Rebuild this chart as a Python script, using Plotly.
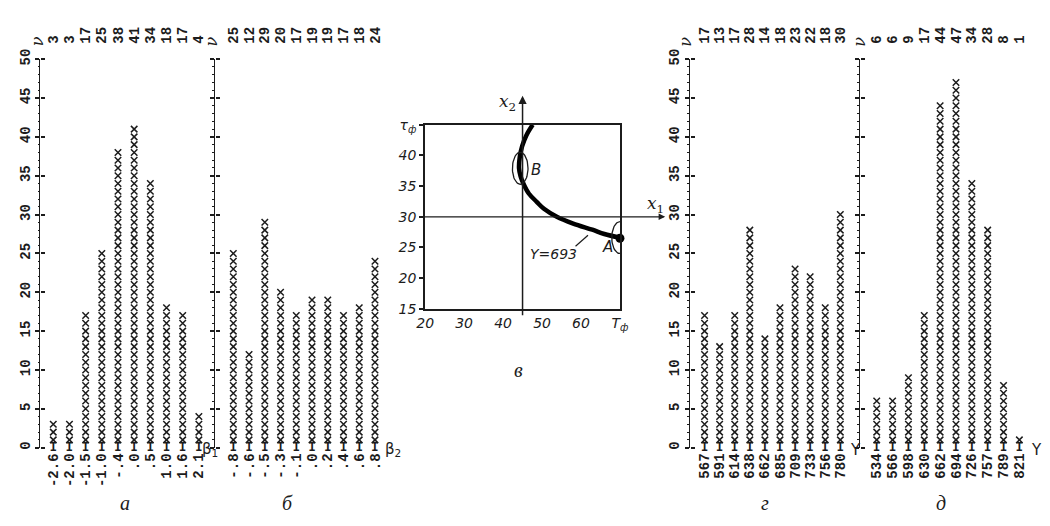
import math
import plotly.graph_objects as go

# ---------------- data ----------------
# panel а
a_labels = ["-2.6", "-2.0", "-1.5", "-1.0", "-.4", ".0", ".5", "1.0", "1.6", "2.1"]
a_counts = [3, 3, 17, 25, 38, 41, 34, 18, 17, 4]
# panel б
b_labels = ["-.8", "-.6", "-.5", "-.3", "-.1", ".0", ".2", ".4", ".6", ".8"]
b_counts = [25, 12, 29, 20, 17, 19, 19, 17, 18, 24]
# panel г
g_labels = ["567", "591", "614", "638", "662", "685", "709", "733", "756", "780"]
g_counts = [17, 13, 17, 28, 14, 18, 23, 22, 18, 30]
# panel д
d_labels = ["534", "566", "598", "630", "662", "694", "726", "757", "789", "821"]
d_counts = [6, 6, 9, 17, 44, 47, 34, 28, 8, 1]

value_ticks = [0, 5, 10, 15, 20, 25, 30, 35, 40, 45, 50]

# panel в
curve_x = [70.0, 66.0, 62.9, 58.0, 53.8, 50.5, 48.7, 46.6, 45.3, 44.5, 44.1, 44.3, 44.9, 46.0, 47.6]
curve_y = [26.6, 27.2, 27.9, 28.9, 30.0, 31.3, 32.4, 33.8, 35.3, 36.6, 37.9, 39.8, 41.5, 43.3, 45.0]
point_A = (70.0, 26.5)
ellipse_B = (44.4, 37.9, 2.0, 2.6)   # centre x, centre y, half-width, half-height
ellipse_A = (70.0, 26.6, 2.1, 2.6)
v_xticks = [20, 30, 40, 50, 60, 70]
v_xtext = ["20", "30", "40", "50", "60", "T<sub>ф</sub>"]
v_yticks = [15, 20, 25, 30, 35, 40, 45]
v_ytext = ["15", "20", "25", "30", "35", "40", "τ<sub>ф</sub>"]

# ---------------- helpers ----------------
W, H = 1050, 526
def fx(p):
    return p / W
def fy(p):
    return 1 - p / H

MONO = "Liberation Mono"
INK = "#1c1c1c"

fig = go.Figure()

# value axis: 0 at pixel 453, 50 at pixel 50
y_dom = [fy(453), fy(50)]

panels = [
    # labels, counts, axis px, first px, last px, right px, show value labels
    (a_labels, a_counts, 32, 45, 193, 203, True),
    (b_labels, b_counts, 209, 228, 372, 382, False),
    (g_labels, g_counts, 692, 707, 845, 853, True),
    (d_labels, d_counts, 865, 882, 1027, 1037, False),
]

layout = dict(
    width=W, height=H, margin=dict(l=0, r=0, t=0, b=0),
    paper_bgcolor="white", plot_bgcolor="white", showlegend=False,
)

for k, (labels, counts, axp, p0, p1, pr, showv) in enumerate(panels, start=1):
    step = (p1 - p0) / (len(labels) - 1)
    lo = -(p0 - axp) / step
    hi = (pr - p0) / step
    xr = [lo, hi]
    idx = list(range(len(labels)))
    sfx = "" if k == 1 else str(k)
    xa = f"x{sfx}"
    ya = f"y{sfx}"
    # columns of typed crosses
    xs, ys = [], []
    for i, c in enumerate(counts):
        for j in range(1, c + 1):
            xs.append(i)
            ys.append(j)
    fig.add_trace(go.Scatter(
        x=xs, y=ys, mode="markers", xaxis=xa, yaxis=ya, cliponaxis=False,
        marker=dict(symbol="x-thin", size=6.5, line=dict(width=1.5, color=INK)),
        hoverinfo="skip"))
    # base "I"
    fig.add_trace(go.Scatter(
        x=idx, y=[0] * len(idx), mode="text", text=["I"] * len(idx),
        textfont=dict(family=MONO, size=12, color=INK, weight="bold"),
        xaxis=xa, yaxis=ya, cliponaxis=False, hoverinfo="skip"))
    # invisible traces so the helper axes get drawn
    fig.add_trace(go.Scatter(
        x=idx, y=[0] * len(idx), mode="markers", marker=dict(opacity=0),
        xaxis=f"x{k + 4}", yaxis=ya, hoverinfo="skip"))
    fig.add_trace(go.Scatter(
        x=idx, y=[0] * len(idx), mode="markers", marker=dict(opacity=0),
        xaxis=xa, yaxis=f"y{k + 4}", hoverinfo="skip"))

    layout[f"xaxis{sfx}"] = dict(
        domain=[fx(axp), fx(pr)], range=xr, anchor=ya,
        tickmode="array", tickvals=idx, ticktext=labels, tickangle=-90,
        tickfont=dict(family=MONO, size=14, color=INK, weight="bold"),
        ticklabelstandoff=2,
        showline=False, showgrid=False, zeroline=False, ticks="")
    layout[f"yaxis{sfx}"] = dict(
        domain=y_dom, range=[0, 50], anchor=xa, side="left",
        tickmode="array", tickvals=value_ticks, tickangle=-90,
        showticklabels=showv,
        tickfont=dict(family=MONO, size=14, color=INK, weight="bold"),
        showline=True, linecolor=INK, linewidth=1.2,
        ticks="outside", ticklen=4, tickwidth=1.5, tickcolor=INK,
        minor=dict(ticks="outside", dtick=1, ticklen=1.5, tickwidth=1, tickcolor=INK),
        showgrid=False, zeroline=False)
    # mirrored ticks to the right to form "+" marks
    layout[f"yaxis{k + 4}"] = dict(
        overlaying=ya, range=[0, 50], anchor="free", position=fx(axp), side="right",
        tickmode="array", tickvals=value_ticks, showticklabels=False,
        ticks="outside", ticklen=4, tickwidth=1.5, tickcolor=INK,
        showline=False, showgrid=False, zeroline=False)
    # counts along the top
    layout[f"xaxis{k + 4}"] = dict(
        overlaying=xa, range=xr, anchor="free", position=fy(34), side="top",
        tickmode="array", tickvals=idx, ticktext=[str(c) for c in counts], tickangle=-90,
        tickfont=dict(family=MONO, size=14, color=INK, weight="bold"),
        showline=False, showgrid=False, zeroline=False, ticks="")

# ---------------- panel в ----------------
VX0, VX1, VY0, VY1 = 423, 621, 309, 118   # pixel box
VXR, VYR = (20, 70), (15, 45)
def vxp(x):
    return VX0 + (x - VXR[0]) / (VXR[1] - VXR[0]) * (VX1 - VX0)
def vyp(y):
    return VY0 - (y - VYR[0]) / (VYR[1] - VYR[0]) * (VY0 - VY1)

layout["xaxis9"] = dict(
    domain=[fx(VX0), fx(VX1)], range=list(VXR), anchor="y9",
    tickmode="array", tickvals=v_xticks, ticktext=[f"<i>{t}</i>" for t in v_xtext],
    tickfont=dict(family="DejaVu Sans", size=14, color=INK),
    showline=True, mirror=True, linecolor=INK, linewidth=2,
    ticks="", showgrid=False, zeroline=False)
layout["yaxis9"] = dict(
    domain=[fy(VY0), fy(VY1)], range=list(VYR), anchor="x9",
    tickmode="array", tickvals=v_yticks, ticktext=[f"<i>{t}</i>" for t in v_ytext],
    tickfont=dict(family="DejaVu Sans", size=14, color=INK),
    showline=True, mirror=True, linecolor=INK, linewidth=2,
    ticks="outside", ticklen=4, tickwidth=1.5, tickcolor=INK,
    showgrid=False, zeroline=False)

fig.add_trace(go.Scatter(
    x=curve_x, y=curve_y, mode="lines", xaxis="x9", yaxis="y9", cliponaxis=False,
    line=dict(color="black", width=4.5, shape="spline"), hoverinfo="skip"))
fig.add_trace(go.Scatter(
    x=[point_A[0]], y=[point_A[1]], mode="markers", xaxis="x9", yaxis="y9",
    cliponaxis=False, marker=dict(color="black", size=9), hoverinfo="skip"))
# confidence ellipses around A and B
for cx, cy, rx, ry in (ellipse_A, ellipse_B):
    n = 60
    ex = [cx + rx * math.cos(2 * math.pi * t / n) for t in range(n + 1)]
    ey = [cy + ry * math.sin(2 * math.pi * t / n) for t in range(n + 1)]
    fig.add_trace(go.Scatter(
        x=ex, y=ey, mode="lines", xaxis="x9", yaxis="y9", cliponaxis=False,
        line=dict(color=INK, width=1.3), hoverinfo="skip"))

shapes = [dict(type="line", xref="x9", yref="y9", x0=58.6, y0=25.2, x1=61.8, y1=27.0,
               line=dict(color=INK, width=1.2))]

ann = []
# coordinate axes with arrows (x2 upward at x=45, x1 rightward at y=30)
top_px = 88
right_px = 667
ann.append(dict(x=fx(vxp(45)), y=fy(top_px), xref="paper", yref="paper",
                ax=0, ay=VY0 - top_px, axref="pixel", ayref="pixel",
                text="", showarrow=True, arrowhead=2, arrowsize=1.1, arrowwidth=1.5,
                arrowcolor=INK))
ann.append(dict(x=fx(right_px), y=fy(vyp(30)), xref="paper", yref="paper",
                ax=-(right_px - VX0), ay=0, axref="pixel", ayref="pixel",
                text="", showarrow=True, arrowhead=2, arrowsize=1.1, arrowwidth=1.2,
                arrowcolor=INK))

def label(x, y, text, font, angle=0):
    ann.append(dict(x=x, y=y, xref="paper", yref="paper", text=text, textangle=angle,
                    xanchor="center", yanchor="middle", showarrow=False, font=font))

serif_it = dict(family="DejaVu Serif", size=17, color=INK)
label(fx(vxp(41.2)), fy(vyp(48.6)), "<i>x</i><sub>2</sub>", serif_it)
label(fx(vxp(79.2)), fy(vyp(32.0)), "<i>x</i><sub>1</sub>", serif_it)
sans_it = dict(family="DejaVu Sans", size=15, color=INK)
label(fx(vxp(48.4)), fy(vyp(37.6)), "<i>В</i>", sans_it)
label(fx(vxp(66.9)), fy(vyp(25.0)), "<i>А</i>", sans_it)
label(fx(vxp(53.0)), fy(vyp(24.0)), "<i>Y=693</i>", dict(family="DejaVu Sans", size=14, color=INK))

# panel captions
cap_font = dict(family="Liberation Serif", size=20, color=INK)
for txt, px_, py_ in (("а", 118, 510), ("б", 283, 510), ("в", 518, 372),
                      ("г", 768, 510), ("д", 947, 510)):
    label(fx(px_), fy(py_), f"<i>{txt}</i>", cap_font)

# axis titles ν at the top of the value axes
nu_font = dict(family="DejaVu Serif", size=16, color=INK)
for px_ in (29, 206, 688, 865):
    label(fx(px_), fy(32), "<i>ν</i>", nu_font, angle=-90)

# category-axis titles at the end of the rows
t_font = dict(family="DejaVu Sans", size=15, color=INK)
for txt, px_ in (("β<sub>1</sub>", 204), ("β<sub>2</sub>", 390), ("Y", 860), ("Y", 1044)):
    label(fx(px_), fy(455), txt, t_font)

layout["shapes"] = shapes
layout["annotations"] = ann
fig.update_layout(**layout)

fig.write_html("out.html", config={"displayModeBar": False},
               post_script="document.body.style.margin='0';")
